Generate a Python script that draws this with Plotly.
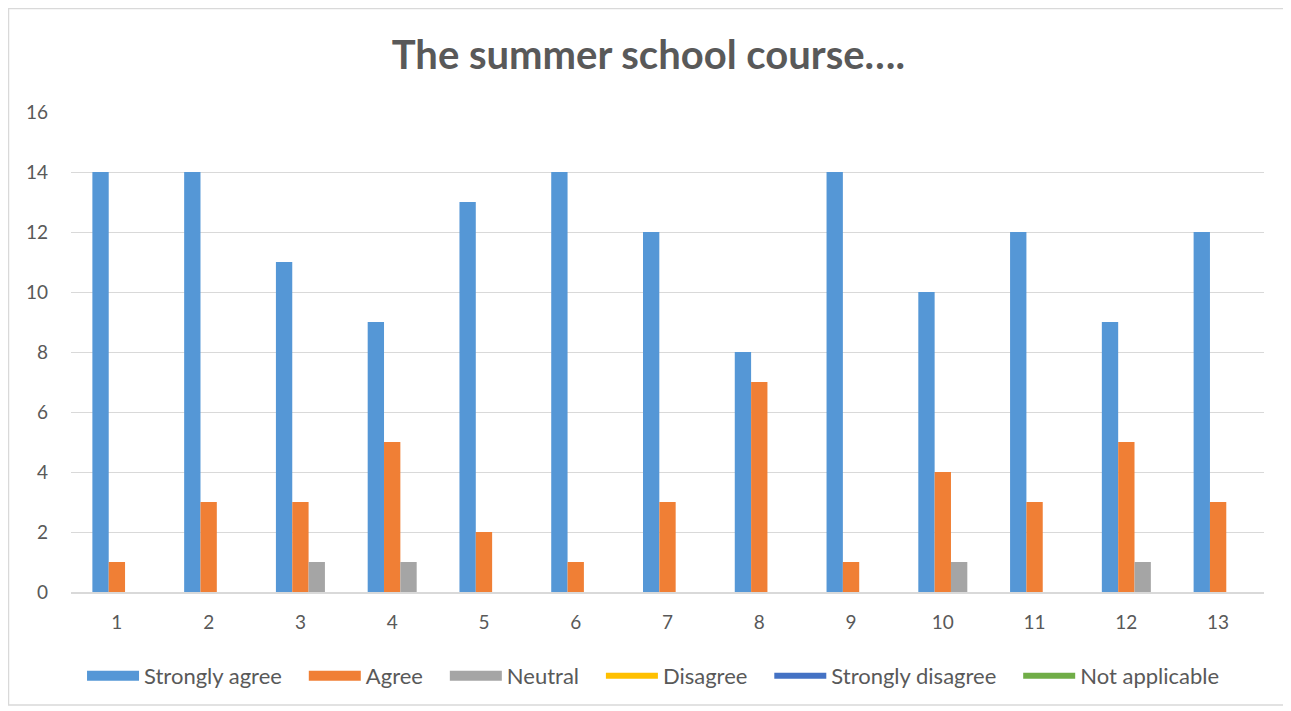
import plotly.graph_objects as go

categories = [str(i) for i in range(1, 14)]
strongly_agree = [14, 14, 11, 9, 13, 14, 12, 8, 14, 10, 12, 9, 12]
agree = [1, 3, 3, 5, 2, 1, 3, 7, 1, 4, 3, 5, 3]
neutral = [0, 0, 1, 1, 0, 0, 0, 0, 0, 1, 0, 1, 0]
disagree = [None] * 13
strongly_disagree = [None] * 13
not_applicable = [None] * 13
y_ticks = [0, 2, 4, 6, 8, 10, 12, 14, 16]

FONT = "Lato, 'Open Sans', sans-serif"
TXT = "#595959"
C_SA, C_A, C_N = "#5597d6", "#f07f35", "#a5a5a5"
PAD = "\u00a0\u00a0\u00a0"

fig = go.Figure()
for vals, name, col in [(strongly_agree, "Strongly agree", C_SA),
                        (agree, "Agree", C_A),
                        (neutral, "Neutral", C_N)]:
    fig.add_trace(go.Bar(x=categories, y=vals, name=name, legendgroup=name, showlegend=False,
                         marker=dict(color=col, line=dict(width=0))))
# legend swatches (rectangles) for the bar series
for name, col in [("Strongly agree", C_SA), ("Agree", C_A), ("Neutral", C_N)]:
    fig.add_trace(go.Scatter(x=categories, y=[None] * 13, name=name + PAD, legendgroup=name,
                             mode="lines", line=dict(color=col, width=14)))
for vals, name, col in [(disagree, "Disagree", "#ffc000"),
                        (strongly_disagree, "Strongly disagree", "#4472c4"),
                        (not_applicable, "Not applicable", "#70ad47")]:
    fig.add_trace(go.Scatter(x=categories, y=vals, name=name + PAD, mode="lines",
                             line=dict(color=col, width=6)))

fig.update_layout(
    width=1291, height=711,
    margin=dict(l=63, r=35, t=104, b=127),
    paper_bgcolor="white", plot_bgcolor="white",
    barmode="group", bargap=0.466, bargroupgap=0,
    title=dict(text="<b>The summer school course….</b>", x=0.496, xanchor="center",
               y=0.934, yanchor="middle",
               font=dict(family=FONT, size=40, color=TXT)),
    font=dict(family=FONT, color=TXT, size=19),
    xaxis=dict(type="category", showgrid=False, showline=True, linecolor="#d9d9d9",
               linewidth=2, ticks="", tickfont=dict(size=19, color=TXT), ticklabelstandoff=12),
    yaxis=dict(range=[0, 16], tickvals=y_ticks, showgrid=True, gridcolor="#d9d9d9",
               gridwidth=1, zeroline=False, showline=False, ticks="",
               tickfont=dict(size=19, color=TXT), ticklabelstandoff=22),
    legend=dict(orientation="h", x=0.495, xanchor="center", y=-0.175, yanchor="middle",
                font=dict(size=22, color=TXT), itemwidth=52, tracegroupgap=0,
                bgcolor="rgba(0,0,0,0)"),
    showlegend=True,
    shapes=[dict(type="rect", xref="paper", yref="paper",
                 x0=-0.0524, x1=1.0184, y0=-0.2354, y1=1.2156,
                 line=dict(color="#d9d9d9", width=1.5), fillcolor="rgba(0,0,0,0)", layer="below")],
)

fig.write_html("out.html")
